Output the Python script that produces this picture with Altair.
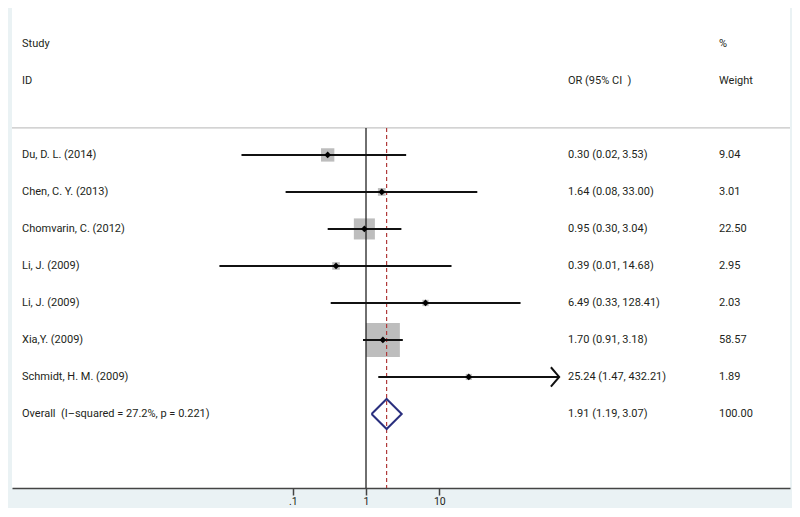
import altair as alt
import pandas as pd

studies = ["Du, D. L. (2014)", "Chen, C. Y. (2013)", "Chomvarin, C. (2012)",
           "Li, J. (2009)", "Li, J. (2009)", "Xia,Y. (2009)", "Schmidt, H. M. (2009)"]
or_vals = [0.30, 1.64, 0.95, 0.39, 6.49, 1.70, 25.24]
ci_low = [0.02, 0.08, 0.30, 0.01, 0.33, 0.91, 1.47]
ci_high = [3.53, 33.00, 3.04, 14.68, 128.41, 3.18, 432.21]
weights = [9.04, 3.01, 22.50, 2.95, 2.03, 58.57, 1.89]
arrow_flags = [False, False, False, False, False, False, True]

overall_label = "Overall\u00a0\u00a0(I\u2013squared = 27.2%, p = 0.221)"
overall_or = 1.91
overall_low = 1.19
overall_high = 3.07
overall_weight = 100.00

x_ticks = [0.1, 1, 10]

header_texts = ["Study", "ID", "OR (95% CI\u00a0\u00a0)", "%", "Weight"]
header_rows = [-3, -2, -2, -3, -2]
header_cols = [0, 0, 1, 2, 2]

W, H = 778, 480
COLX = [10, 556, 707]
FONT = "Roboto"
TXT = "#231F20"

rows = list(range(len(studies)))
df = pd.DataFrame({
    "row": rows, "study": studies, "or": or_vals, "lo": ci_low, "hi": ci_high,
    "w": weights,
    "ortxt": [f"{o:.2f} ({l:.2f}, {h:.2f})" for o, l, h in zip(or_vals, ci_low, ci_high)],
    "wtxt": [f"{w:.2f}" for w in weights],
})
orow = len(studies)
dfo = pd.DataFrame({"row": [orow], "study": [overall_label],
                    "ortxt": [f"{overall_or:.2f} ({overall_low:.2f}, {overall_high:.2f})"],
                    "wtxt": [f"{overall_weight:.2f}"]})
dtext = pd.concat([df[["row", "study", "ortxt", "wtxt"]], dfo], ignore_index=True)

dh = 0.405
diamond = pd.DataFrame({
    "x": [overall_low, overall_or, overall_high, overall_or, overall_low],
    "y": [orow, orow - dh, orow, orow + dh, orow],
    "o": [0, 1, 2, 3, 4],
})
arrows = df[pd.Series(arrow_flags)].reset_index(drop=True)

xscale = alt.Scale(type="log", domain=[10 ** -4.83, 10 ** 5.785], nice=False)
yscale = alt.Scale(domain=[-3.97, 9], reverse=True, nice=False, zero=False)
xaxis = alt.Axis(values=x_ticks, labelExpr="datum.value < 1 ? '.1' : format(datum.value, 'd')",
                 grid=False, domainColor="#444", domainWidth=1.5, tickColor="#444", tickSize=7,
                 tickWidth=1.5, labelFontSize=10.5, labelFont=FONT, labelColor=TXT, title=None,
                 labelPadding=1)

base = alt.Chart(df)

squares = base.mark_square(color="#BDBDBD", opacity=1).encode(
    x=alt.X("or:Q", scale=xscale, axis=xaxis),
    y=alt.Y("row:Q", scale=yscale, axis=None),
    size=alt.Size("w:Q", scale=alt.Scale(domain=[0, 100], range=[0, 1970]), legend=None))

one = pd.DataFrame({"a": [0]})
sep = alt.Chart(one).mark_rule(color="#B5B5B5", strokeWidth=1).encode(
    y=alt.datum(-0.73), x=alt.value(0), x2=alt.value(W))

null_line = alt.Chart(one).mark_rule(color="#222", strokeWidth=1.3).encode(
    x=alt.datum(1), y=alt.datum(-0.73), y2=alt.datum(9))

pooled_line = alt.Chart(one).mark_rule(
    color="#B03A3A", strokeWidth=1.2, strokeDash=[4, 3]).encode(
    x=alt.datum(overall_or), y=alt.datum(-0.73), y2=alt.datum(9))

ci = base.mark_rule(color="#111", strokeWidth=2).encode(
    x="lo:Q", x2="hi:Q", y="row:Q")

pts = base.mark_point(shape="diamond", filled=True, color="#000", size=45, opacity=1).encode(
    x="or:Q", y="row:Q")

arrow = alt.Chart(arrows).mark_point(
    shape="M-0.85,-1L0,0L-0.85,1", filled=False, color="#111", strokeWidth=2, size=380,
    opacity=1).encode(x="hi:Q", y="row:Q")

dia = alt.Chart(diamond).mark_line(color="#2A2F7E", strokeWidth=2).encode(
    x="x:Q", y="y:Q", order="o:Q")

tb = alt.Chart(dtext)
tstyle = dict(align="left", baseline="middle", font=FONT, fontSize=11, color=TXT)
tstudy = tb.mark_text(**tstyle).encode(x=alt.value(COLX[0]), y="row:Q", text="study:N")
tor = tb.mark_text(**tstyle).encode(x=alt.value(COLX[1]), y="row:Q", text="ortxt:N")
tw = tb.mark_text(**tstyle).encode(x=alt.value(COLX[2]), y="row:Q", text="wtxt:N")

head_layers = []
for t, r, c in zip(header_texts, header_rows, header_cols):
    head_layers.append(alt.Chart(one).mark_text(text=t, **tstyle).encode(
        x=alt.value(COLX[c]), y=alt.datum(r)))

chart = alt.layer(squares, sep, null_line, pooled_line, ci, pts, arrow, dia,
                  tstudy, tor, tw, *head_layers).properties(
    width=W, height=H,
    autosize=alt.AutoSizeParams(type="none"),
    padding={"left": 4, "top": 0, "right": 2, "bottom": 20},
    background="#EAF2F4",
).configure_view(fill="white", stroke=None)

chart.save("out.html", embed_options={"renderer": "svg", "actions": False})
